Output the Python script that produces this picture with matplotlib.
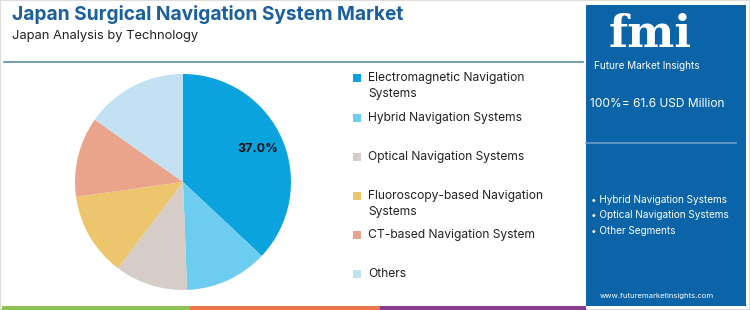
import matplotlib
matplotlib.use("Agg")
import matplotlib.pyplot as plt
from matplotlib.patches import Rectangle

plt.rcParams['font.family'] = ['Inter', 'DejaVu Sans']

# data
segments = ["Electromagnetic Navigation\nSystems", "Hybrid Navigation Systems",
            "Optical Navigation Systems", "Fluoroscopy-based Navigation\nSystems",
            "CT-based Navigation System", "Others"]
shares = [37.0, 12.4, 10.9, 12.5, 12.0, 15.2]
colors = ["#0aa3de", "#6dcdf1", "#d6ccc8", "#ecc56c", "#eba48c", "#c2e1f2"]
legend_y = [78, 118, 157, 196, 235, 274]
title = "Japan Surgical Navigation System Market"
subtitle = "Japan Analysis by Technology"
total_text = "100%= 61.6 USD Million"
highlights = ["Hybrid Navigation Systems", "Optical Navigation Systems", "Other Segments"]

W, H = 750, 310
fig = plt.figure(figsize=(7.5, 3.1), dpi=100)
fig.patch.set_facecolor("white")

def fx(x):
    return x / W

def fy(y):
    return 1 - y / H

# border
fig.patches.append(Rectangle((0, 0), 1, 1, transform=fig.transFigure, fill=False,
                             edgecolor="#dddddd", lw=1.5))

# title block
fig.text(fx(12), fy(15), title, fontsize=13.8, fontweight="bold", color="#1b5f9c", va="center")
fig.text(fx(12), fy(36), subtitle, fontsize=9.3, color="#222222", va="center")
fig.add_artist(plt.Line2D([fx(4), fx(583)], [fy(62), fy(62)], color="#5a8fa8", lw=1.2))

# bottom colour strip
for x0, x1, c in [(2, 190, "#8dc153"), (190, 380, "#e8774a"), (380, 586, "#8a3d8f")]:
    fig.patches.append(Rectangle((fx(x0), 0), fx(x1 - x0), 4 / H, transform=fig.transFigure,
                                 color=c, lw=0))

# right panel
fig.patches.append(Rectangle((fx(586), fy(306)), fx(160), 301 / H, transform=fig.transFigure,
                             color="#0b64a8", lw=0))
fig.text(fx(650), fy(47), "fmi", fontsize=32, fontweight="bold", color="white",
         family="DejaVu Serif", ha="center", va="baseline")
fig.text(fx(647), fy(66), "Future Market Insights", fontsize=7.2, color="white",
         ha="center", va="center")
fig.text(fx(657), fy(104), total_text, fontsize=8.6, color="white", ha="center", va="center")
fig.add_artist(plt.Line2D([fx(586), fx(736)], [fy(143), fy(143)], color="#6f9cc8", lw=1.2))
for i, h in enumerate(highlights):
    fig.text(fx(591), fy(200 + i * 15.5), "\u2022 " + h, fontsize=7.2, color="white", va="center")
fig.text(fx(657), fy(296), "www.futuremarketinsights.com", fontsize=5.5, color="white",
         ha="center", va="center")

# pie
cx, cy, r = 183, 182, 108
ax = fig.add_axes([fx(cx - r), fy(cy + r), fx(2 * r), 2 * r / H])
ax.pie(shares, colors=colors, startangle=90, counterclock=False, radius=1,
       wedgeprops=dict(linewidth=0))
ax.set_xlim(-1, 1)
ax.set_ylim(-1, 1)
ax.axis("off")
fig.text(fx(258), fy(149), f"{shares[0]:.1f}%", fontsize=9, fontweight="bold",
         color="#111111", ha="center", va="center")

# legend
for lab, c, y in zip(segments, colors, legend_y):
    fig.patches.append(Rectangle((fx(353), fy(y + 4)), fx(8), 8 / H, transform=fig.transFigure,
                                 color=c, lw=0))
    fig.text(fx(368), fy(y - 6), lab, fontsize=8.7, color="#222222", va="top",
             linespacing=1.45)

fig.savefig("out.png", dpi=100)
